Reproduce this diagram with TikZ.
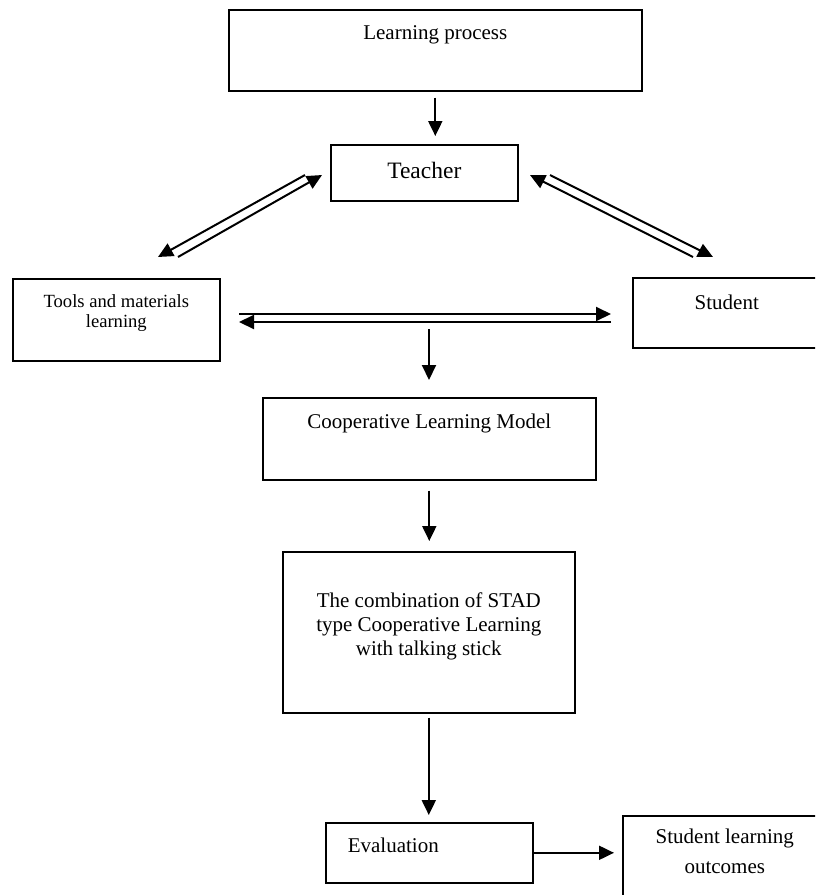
\documentclass[tikz,border=0pt]{standalone}
\usepackage{fontspec}
\setmainfont{Liberation Serif}
\usetikzlibrary{arrows.meta}

\tikzset{
  box/.style={draw, line width=1.6pt, inner sep=0pt, anchor=north west, align=center,
    font=\fontsize{21}{24}\selectfont},
  arr/.style={line width=2pt, -{Triangle[length=15pt,width=14pt]}},
}

\begin{document}
\begin{tikzpicture}[x=1pt,y=-1pt]
\useasboundingbox (0,0) rectangle (815,895);
\clip (0,0) rectangle (815,895);
% boxes
\node[box, minimum width=413pt, minimum height=81pt, text height=30pt, text depth=51pt] (learn) at (228,9) {Learning process};
\node[box, minimum width=187pt, minimum height=56pt, text height=34pt, text depth=22pt, font=\fontsize{23.5}{26}\selectfont] (teacher) at (330,144) {Teacher};
\node[box, minimum width=207pt, minimum height=82pt, text height=49pt, text depth=33pt, font=\fontsize{18.6}{20}\selectfont] (tools) at (12,278) {Tools and materials\\learning};
\node[box, minimum width=188pt, minimum height=70pt, text height=32pt, text depth=38pt] (student) at (632,277) {Student};
\node[box, minimum width=333pt, minimum height=82pt, text height=31pt, text depth=51pt] (clm) at (262,397) {Cooperative Learning Model};
\node[box, minimum width=292pt, minimum height=161pt, text height=104pt, text depth=57pt] (stad) at (282,551) {The combination of STAD\\type Cooperative Learning\\with talking stick};
\node[box, minimum height=60pt, text width=163pt, inner xsep=22pt, align=left, text height=30pt, text depth=30pt] (eval) at (325,822) {Evaluation};
\node[box, minimum width=204pt, minimum height=85pt, text height=58pt, text depth=27pt] (outc) at (622,815) {Student learning\\[6pt]outcomes};
% free ends of the double arrows
\coordinate (tl-a) at (305,175); \coordinate (tl-b) at (158,257);
\coordinate (lt-a) at (178,257); \coordinate (lt-b) at (322,175);
\coordinate (ts-a) at (550,175); \coordinate (ts-b) at (713,257);
\coordinate (st-a) at (693,257); \coordinate (st-b) at (530,175);
\coordinate (ls-a) at (239,314); \coordinate (ls-b) at (611,314);
\coordinate (sl-a) at (611,322); \coordinate (sl-b) at (239,322);
\coordinate (mid) at (429,329);
% arrows
\draw[arr, shorten <=6pt, shorten >=8pt] (learn.south) -- (learn.south |- teacher.north);
\draw[arr] (tl-a) -- (tl-b);
\draw[arr] (lt-a) -- (lt-b);
\draw[arr] (ts-a) -- (ts-b);
\draw[arr] (st-a) -- (st-b);
\draw[arr] (ls-a) -- (ls-b);
\draw[arr] (sl-a) -- (sl-b);
\draw[arr, shorten >=17pt] (mid) -- (mid |- clm.north);
\draw[arr, shorten <=10pt, shorten >=10pt] (clm.south) -- (clm.south |- stad.north);
\draw[arr, shorten <=4pt, shorten >=7pt] (stad.south) -- (stad.south |- eval.north);
\draw[arr, shorten >=8pt] (eval.east) -- (outc.west |- eval.east);
\end{tikzpicture}
\end{document}
